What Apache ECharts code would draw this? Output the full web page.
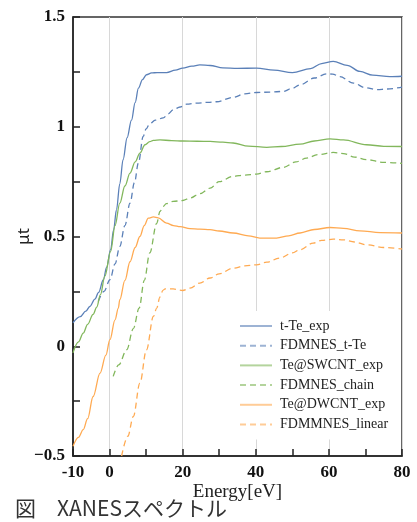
<!DOCTYPE html>
<html><head><meta charset="utf-8">
<script src="https://cdn.jsdelivr.net/npm/echarts@6/dist/echarts.min.js"></script>
<style>html,body{margin:0;padding:0;background:#fff}#c{width:417px;height:522px}</style>
</head><body><div id="c"></div>
<script>
var seriesNames = ['t-Te_exp','FDMNES_t-Te','Te@SWCNT_exp','FDMNES_chain','Te@DWCNT_exp','FDMMNES_linear'];
var xTickLabels = [-10,0,20,40,60,80];
var yTickLabels = ['−0.5','0','0.5','1','1.5'];

var tTeExpE = [-10,-8,-6.5,-5.4,-4,-3,-1.7,-0.8,0.3,1.1,1.9,2.8,3.7,4.8,6,7,7.9,9,10.1,11.5,13,15.6,18,20,22.5,24.7,27.5,31,35,40.2,45,50,55,58,61.2,65,68.5,72,76.7,80];
var tTeExpV = [0.107,0.135,0.16,0.181,0.215,0.245,0.303,0.36,0.44,0.53,0.622,0.74,0.85,0.95,1.03,1.11,1.176,1.215,1.237,1.245,1.247,1.247,1.258,1.267,1.276,1.282,1.279,1.268,1.266,1.267,1.258,1.247,1.265,1.288,1.298,1.28,1.252,1.235,1.228,1.23];

var fdmTTeE = [-3.1,-1.5,0.1,1.5,2.8,4.2,5.6,6.8,7.9,9.2,10,11,12.5,14.7,16,17.4,19.3,21.1,23.8,27,29.3,33.8,37,40.2,44,47.5,50,52.1,56,59.4,61,63,66.7,70,73.1,76,80];
var fdmTTeV = [0.204,0.25,0.303,0.375,0.455,0.55,0.652,0.745,0.835,0.956,0.99,1.014,1.03,1.04,1.058,1.077,1.09,1.103,1.108,1.111,1.114,1.134,1.15,1.156,1.158,1.161,1.175,1.191,1.222,1.241,1.24,1.228,1.199,1.178,1.169,1.172,1.181];

var swExpE = [-10,-8.5,-7.2,-6,-4.5,-3.5,-2.5,-1.3,0.3,1.5,2.8,4.2,5.6,7,8.3,9.7,11,12,13.8,17,20,24,27.5,31,33.8,38,43,47,52.1,56,60.3,64,70.3,75,80];
var swExpV = [-0.03,0.02,0.06,0.1,0.145,0.178,0.235,0.318,0.432,0.55,0.652,0.73,0.789,0.84,0.88,0.918,0.932,0.938,0.94,0.937,0.935,0.934,0.933,0.93,0.926,0.912,0.906,0.91,0.921,0.935,0.945,0.94,0.918,0.911,0.91];

var chainE = [1,2.5,4.7,6.5,8.1,9.5,11,12.9,13.8,14.7,15.5,17.4,20,22,24.7,27.5,30,33.8,37,40.2,43,47.5,51,53.9,57,61.2,64,67,70.3,75,80];
var chainV = [-0.137,-0.085,-0.016,0.08,0.174,0.3,0.425,0.56,0.614,0.637,0.65,0.66,0.664,0.675,0.695,0.72,0.75,0.774,0.78,0.784,0.795,0.815,0.84,0.857,0.873,0.883,0.878,0.862,0.85,0.838,0.833];

var dwExpE = [-10,-8.5,-7.2,-6,-4.5,-2.6,-1,0.1,1.5,2.4,2.8,4.2,5.6,7,8.3,9.5,10.6,12,13.3,15.6,17.5,19.3,22,24.7,27.5,30,33.8,38,41.1,45.7,49,52.1,56,60.3,64,68.5,74,80];
var dwExpV = [-0.456,-0.415,-0.38,-0.33,-0.229,-0.122,-0.04,0.03,0.12,0.174,0.212,0.3,0.385,0.45,0.5,0.55,0.584,0.589,0.585,0.561,0.55,0.545,0.536,0.534,0.531,0.525,0.516,0.503,0.493,0.493,0.503,0.516,0.532,0.541,0.537,0.526,0.518,0.516];

var linearE = [3.3,5,6.5,8.3,10.1,12,12.9,13.8,14.6,15.2,16.2,17.4,20,22,24.7,27.5,30,33.8,37,40.2,43,46.6,50,52.1,55.7,58,61.2,64,67,70.3,75,80];
var linearV = [-0.5,-0.41,-0.32,-0.168,-0.016,0.136,0.174,0.225,0.255,0.261,0.262,0.261,0.254,0.265,0.288,0.311,0.33,0.356,0.366,0.371,0.383,0.402,0.425,0.44,0.47,0.482,0.488,0.485,0.475,0.462,0.45,0.443];

function pairs(xs, ys){ return xs.map(function(x,i){ return [x, ys[i]]; }); }

var blue = '#5b80b8', green = '#82b75c', orange = '#ffaa52';
var dash = [6,4];
function mk(name, xs, ys, color, dashed){
  return {
    name: name, type: 'line', data: pairs(xs, ys), symbol: 'none', smooth: 0.35, smoothMonotone: 'x',
    clip: true,
    lineStyle: {color: color, width: 1.3, type: dashed ? dash : 'solid'},
    itemStyle: {color: color}
  };
}

var chart = echarts.init(document.getElementById('c'), null, {renderer: 'canvas'});
chart.setOption({
  animation: false,
  backgroundColor: '#fff',
  grid: {left: 73, top: 17, right: 15, bottom: 66, show: true, borderColor: '#333', borderWidth: 1.5, backgroundColor: 'transparent'},
  legend: {
    data: seriesNames, orient: 'vertical', left: 233, top: 311,
    itemWidth: 32, itemHeight: 14, itemGap: 5.7,
    padding: [8, 12, 8, 6], backgroundColor: '#fff',
    lineStyle: {opacity: 0.6},
    itemStyle: {opacity: 0},
    textStyle: {fontFamily: 'Liberation Serif', fontSize: 14, color: '#222', padding: [0,0,0,3]}
  },
  xAxis: {
    type: 'value', min: -10, max: 80, interval: 10,
    name: 'Energy[eV]', nameLocation: 'middle', nameGap: 27, nameMoveOverlap: false,
    nameTextStyle: {fontFamily: 'Liberation Serif', fontSize: 19, color: '#222'},
    axisLine: {onZero: false, lineStyle: {color: '#222', width: 1.5}},
    axisTick: {inside: true, length: 7, lineStyle: {color: '#222', width: 1.5}},
    axisLabel: {margin: 8, fontFamily: 'Liberation Serif', fontWeight: 'bold', fontSize: 17, color: '#111',
      formatter: function(v){ return xTickLabels.indexOf(v) >= 0 ? String(v) : ''; }},
    splitLine: {show: true, lineStyle: {color: ['transparent', '#d8d8d8'], width: 1}}
  },
  yAxis: {
    type: 'value', min: -0.5, max: 1.5, interval: 0.25,
    name: 'μt', nameLocation: 'middle', nameGap: 40, nameMoveOverlap: false,
    nameTextStyle: {fontFamily: 'Noto Sans', fontSize: 17, color: '#222'},
    axisLine: {onZero: false, lineStyle: {color: '#222', width: 1.5}},
    axisTick: {inside: true, length: 7, lineStyle: {color: '#222', width: 1.5}},
    axisLabel: {margin: 8, fontFamily: 'Liberation Serif', fontWeight: 'bold', fontSize: 17, color: '#111',
      formatter: function(v){
        var s = v < 0 ? '−' + Math.abs(v) : String(v);
        return yTickLabels.indexOf(s) >= 0 ? s : '';
      }},
    splitLine: {show: false}
  },
  graphic: [{type: 'text', left: 15, top: 498, style: {text: '図　XANESスペクトル', fontFamily: 'Noto Sans CJK JP', fontSize: 21, fill: '#333'}}],
  series: [
    mk(seriesNames[0], tTeExpE, tTeExpV, blue, false),
    mk(seriesNames[1], fdmTTeE, fdmTTeV, blue, true),
    mk(seriesNames[2], swExpE, swExpV, green, false),
    mk(seriesNames[3], chainE, chainV, green, true),
    mk(seriesNames[4], dwExpE, dwExpV, orange, false),
    mk(seriesNames[5], linearE, linearV, orange, true)
  ]
});
</script></body></html>
